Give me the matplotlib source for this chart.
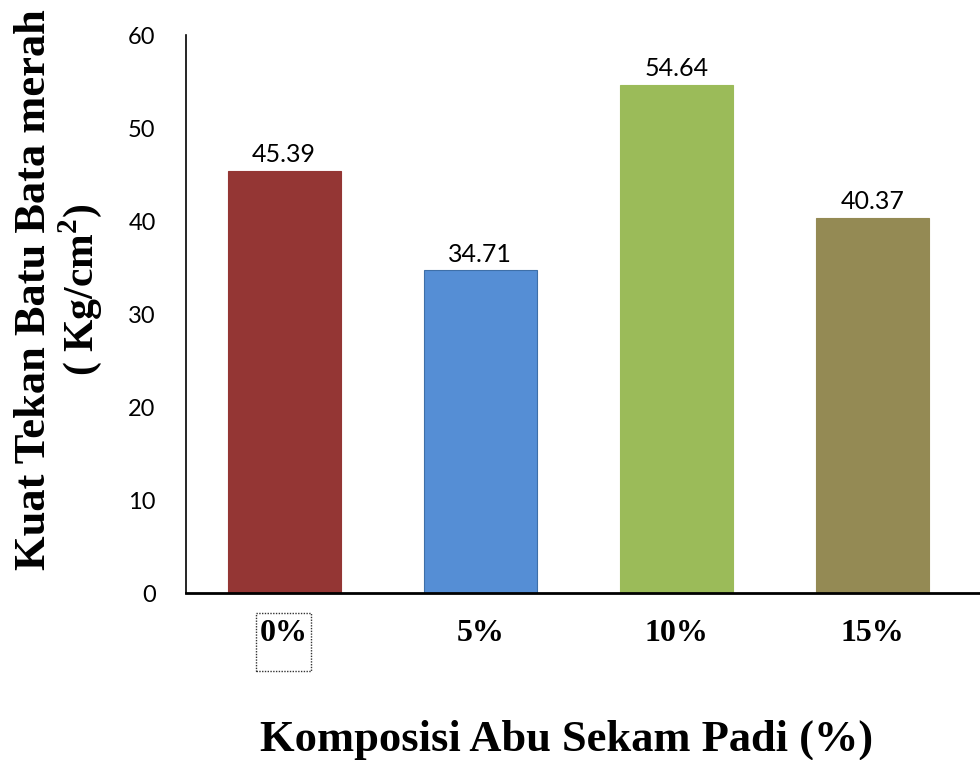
import matplotlib
matplotlib.use("Agg")
import matplotlib.pyplot as plt
from matplotlib.patches import Rectangle

# data
kategori = ["0%", "5%", "10%", "15%"]
kuat_tekan = [45.39, 34.71, 54.64, 40.37]
warna = ["#943634", "#558ED5", "#9BBB59", "#948A54"]
tepi = ["#943634", "#3E6FA8", "#9BBB59", "#948A54"]
y_ticks = [0, 10, 20, 30, 40, 50, 60]

fig = plt.figure(figsize=(9.8, 7.6), dpi=100)
ax = fig.add_axes([0.19, 0.2197, 0.81, 0.734])

x = range(len(kategori))
bars = ax.bar(x, kuat_tekan, width=0.577, color=warna, edgecolor=tepi, linewidth=0.8, zorder=2)

# label nilai
for b, v in zip(bars, kuat_tekan):
    ax.text(b.get_x() + b.get_width() / 2, v + 0.5, f"{v:.2f}",
            ha="center", va="bottom", fontsize=18, family="Lato")

ax.set_xlim(-0.5, 3.55)
ax.set_ylim(0, 60)
ax.set_yticks(y_ticks)
ax.set_yticklabels([str(t) for t in y_ticks], fontsize=17, family="Lato")
ax.tick_params(axis="y", length=0, pad=22)

ax.set_xticks(list(x))
ax.set_xticklabels(kategori, fontsize=23, fontweight="bold", family="Liberation Serif")
ax.tick_params(axis="x", length=0, pad=19)

for s in ["top", "right"]:
    ax.spines[s].set_visible(False)
ax.spines["left"].set_linewidth(1.2)
ax.spines["bottom"].set_linewidth(2.0)

# kotak titik-titik di sekitar 0%
fig.patches.append(Rectangle((256 / 980, 1 - 671 / 760), 55 / 980, 58 / 760,
                             transform=fig.transFigure, fill=False,
                             linestyle=(0, (1, 1)), linewidth=1.0, edgecolor="#333333"))

fig.text(0.578, 1 - 740 / 760, "Komposisi Abu Sekam Padi (%)", ha="center", va="center",
         fontsize=32, fontweight="bold", family="Liberation Serif")
fig.text(34 / 980, 1 - 290 / 760, "Kuat Tekan Batu Bata merah", rotation=90,
         ha="center", va="center", fontsize=32, fontweight="bold", family="Liberation Serif")
fig.text(80 / 980, 1 - 290 / 760, "( Kg/cm$^\\mathregular{2}$)", rotation=90,
         ha="center", va="center", fontsize=30, fontweight="bold", family="Liberation Serif")

fig.savefig("out.png", dpi=100)
